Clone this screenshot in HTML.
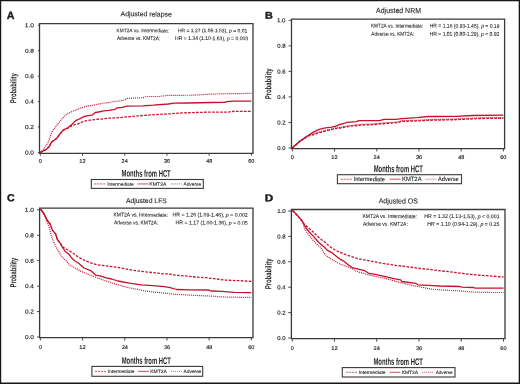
<!DOCTYPE html>
<html><head><meta charset="utf-8"><style>
html,body{margin:0;padding:0;background:#fff;}
body{width:520px;height:384px;overflow:hidden;}
svg{display:block;font-family:"Liberation Sans",sans-serif;font-kerning:none;will-change:transform;}
</style></head><body>
<svg width="520" height="384" viewBox="0 0 520 384">
<rect x="0" y="0" width="520" height="384" fill="#fff"/>
<path d="M0.55,0.55 H519.35 V383.25 H0.55 Z" fill="none" stroke="#161616" stroke-width="1.3"/>
<path d="M39.50,23.60 H253.00 V153.30 H39.50 Z" fill="none" stroke="#3a3a3a" stroke-width="1.3"/>
<line x1="37.90" y1="152.50" x2="39.50" y2="152.50" stroke="#3a3a3a" stroke-width="0.9"/>
<text transform="translate(24.95,154.50) rotate(0.3) scale(0.06479,0.05731)" font-size="100" fill="#1e1e1e" stroke="#1e1e1e" stroke-width="2.62" stroke-linejoin="round">0.0</text>
<line x1="37.90" y1="127.04" x2="39.50" y2="127.04" stroke="#3a3a3a" stroke-width="0.9"/>
<text transform="translate(24.94,129.04) rotate(0.3) scale(0.06535,0.05731)" font-size="100" fill="#1e1e1e" stroke="#1e1e1e" stroke-width="2.62" stroke-linejoin="round">0.2</text>
<line x1="37.90" y1="101.58" x2="39.50" y2="101.58" stroke="#3a3a3a" stroke-width="0.9"/>
<text transform="translate(24.95,103.58) rotate(0.3) scale(0.06431,0.05731)" font-size="100" fill="#1e1e1e" stroke="#1e1e1e" stroke-width="2.62" stroke-linejoin="round">0.4</text>
<line x1="37.90" y1="76.12" x2="39.50" y2="76.12" stroke="#3a3a3a" stroke-width="0.9"/>
<text transform="translate(24.95,78.12) rotate(0.3) scale(0.06503,0.05731)" font-size="100" fill="#1e1e1e" stroke="#1e1e1e" stroke-width="2.62" stroke-linejoin="round">0.6</text>
<line x1="37.90" y1="50.66" x2="39.50" y2="50.66" stroke="#3a3a3a" stroke-width="0.9"/>
<text transform="translate(24.95,52.66) rotate(0.3) scale(0.06500,0.05731)" font-size="100" fill="#1e1e1e" stroke="#1e1e1e" stroke-width="2.62" stroke-linejoin="round">0.8</text>
<line x1="37.90" y1="25.20" x2="39.50" y2="25.20" stroke="#3a3a3a" stroke-width="0.9"/>
<text transform="translate(24.69,27.20) rotate(0.3) scale(0.06667,0.05731)" font-size="100" fill="#1e1e1e" stroke="#1e1e1e" stroke-width="2.62" stroke-linejoin="round">1.0</text>
<line x1="40.30" y1="153.30" x2="40.30" y2="155.80" stroke="#3a3a3a" stroke-width="0.9"/>
<text transform="translate(38.79,162.85) rotate(0.3) scale(0.05439,0.05229)" font-size="100" fill="#1e1e1e" stroke="#1e1e1e" stroke-width="2.87" stroke-linejoin="round">0</text>
<line x1="82.52" y1="153.30" x2="82.52" y2="155.80" stroke="#3a3a3a" stroke-width="0.9"/>
<text transform="translate(79.23,162.85) rotate(0.3) scale(0.05782,0.05229)" font-size="100" fill="#1e1e1e" stroke="#1e1e1e" stroke-width="2.87" stroke-linejoin="round">12</text>
<line x1="124.74" y1="153.30" x2="124.74" y2="155.80" stroke="#3a3a3a" stroke-width="0.9"/>
<text transform="translate(121.61,162.85) rotate(0.3) scale(0.05519,0.05229)" font-size="100" fill="#1e1e1e" stroke="#1e1e1e" stroke-width="2.87" stroke-linejoin="round">24</text>
<line x1="166.96" y1="153.30" x2="166.96" y2="155.80" stroke="#3a3a3a" stroke-width="0.9"/>
<text transform="translate(163.90,162.85) rotate(0.3) scale(0.05533,0.05229)" font-size="100" fill="#1e1e1e" stroke="#1e1e1e" stroke-width="2.87" stroke-linejoin="round">36</text>
<line x1="209.18" y1="153.30" x2="209.18" y2="155.80" stroke="#3a3a3a" stroke-width="0.9"/>
<text transform="translate(206.20,162.85) rotate(0.3) scale(0.05450,0.05229)" font-size="100" fill="#1e1e1e" stroke="#1e1e1e" stroke-width="2.87" stroke-linejoin="round">48</text>
<line x1="251.40" y1="153.30" x2="251.40" y2="155.80" stroke="#3a3a3a" stroke-width="0.9"/>
<text transform="translate(248.27,162.85) rotate(0.3) scale(0.05575,0.05229)" font-size="100" fill="#1e1e1e" stroke="#1e1e1e" stroke-width="2.87" stroke-linejoin="round">60</text>
<text transform="translate(6.68,18.93) rotate(0.3) scale(0.10732,0.10574)" font-size="100" font-weight="bold" fill="#1e1e1e" stroke="#1e1e1e" stroke-width="3.78" stroke-linejoin="round">A</text>
<text transform="translate(120.59,16.25) rotate(0.3) scale(0.06876,0.06904)" font-size="100" fill="#1e1e1e" stroke="#1e1e1e" stroke-width="1.45" stroke-linejoin="round">Adjusted relapse</text>
<text transform="translate(116.51,32.15) rotate(0.3) scale(0.04810,0.05160)" font-size="100" fill="#1e1e1e" stroke="#1e1e1e" stroke-width="1.55" stroke-linejoin="round">KMT2A vs. Intermediate:</text>
<text transform="translate(116.89,39.95) rotate(0.3) scale(0.04767,0.05305)" font-size="100" fill="#1e1e1e" stroke="#1e1e1e" stroke-width="1.51" stroke-linejoin="round">Adverse vs. KMT2A:</text>
<text transform="translate(177.99,32.15) rotate(0.3) scale(0.04990,0.05160)" font-size="100" fill="#1e1e1e" stroke="#1e1e1e" stroke-width="1.55" stroke-linejoin="round">HR = 1.27 (1.06-1.53), <tspan font-style="italic">p</tspan> = 0.01</text>
<text transform="translate(175.08,39.95) rotate(0.3) scale(0.05067,0.05305)" font-size="100" fill="#1e1e1e" stroke="#1e1e1e" stroke-width="1.51" stroke-linejoin="round">HR = 1.34 (1.10-1.63), <tspan font-style="italic">p</tspan> = 0.003</text>
<text transform="translate(16.28,103.14) rotate(-89.7) scale(0.05770,0.08757)" font-size="100" font-weight="bold" fill="#1e1e1e">Probability</text>
<text transform="translate(121.56,176.57) rotate(0.3) scale(0.05860,0.09629)" font-size="100" font-weight="bold" fill="#1e1e1e">Months from HCT</text>
<rect x="91.30" y="179.50" width="112.00" height="8.90" fill="none" stroke="#3a3a3a" stroke-width="1.1"/>
<polyline points="94.20,183.95 106.20,183.95" fill="none" stroke="#c8102e" stroke-width="0.75" stroke-linejoin="round" stroke-dasharray="2 1"/>
<polyline points="137.50,183.95 148.50,183.95" fill="none" stroke="#c8102e" stroke-width="0.75" stroke-linejoin="round"/>
<polyline points="170.80,183.95 182.00,183.95" fill="none" stroke="#c8102e" stroke-width="0.75" stroke-linejoin="round" stroke-dasharray="1 1"/>
<text transform="translate(107.26,185.62) rotate(0.3) scale(0.04768,0.04615)" font-size="100" fill="#1e1e1e" stroke="#1e1e1e" stroke-width="2.17" stroke-linejoin="round">Intermediate</text>
<text transform="translate(149.33,185.62) rotate(0.3) scale(0.05169,0.04615)" font-size="100" fill="#1e1e1e" stroke="#1e1e1e" stroke-width="2.17" stroke-linejoin="round">KMT2A</text>
<text transform="translate(183.54,185.62) rotate(0.3) scale(0.04776,0.04615)" font-size="100" fill="#1e1e1e" stroke="#1e1e1e" stroke-width="2.17" stroke-linejoin="round">Adverse</text>
<polyline points="40.30,152.50 46.30,149.40 49.50,146.25 51.50,142.10 56.75,138.40 58.80,135.30 63.00,130.50 68.20,128.00 72.40,125.40 78.00,123.90 83.75,121.25 90.00,120.20 98.40,119.25 108.80,118.20 119.25,117.70 129.70,116.60 138.00,115.90 147.50,115.20 159.00,114.40 170.60,113.80 182.10,112.90 196.00,112.50 209.00,112.10 228.60,112.10 230.90,111.50 251.40,111.30" fill="none" stroke="#c8102e" stroke-width="1.3" stroke-linejoin="round" stroke-dasharray="2.6 1.4"/>
<polyline points="40.30,152.50 44.25,148.30 48.40,142.10 50.50,135.80 52.60,130.60 56.75,125.40 60.90,120.20 66.00,114.50 71.25,111.90 76.50,109.80 81.70,107.70 86.90,106.10 93.20,105.20 98.40,104.10 103.60,103.10 108.80,102.60 114.00,101.50 119.25,101.00 124.50,100.00 127.60,98.40 136.00,97.90 142.90,97.70 146.40,96.50 159.00,96.50 167.10,95.40 194.00,95.20 209.00,94.20 228.60,93.70 251.40,93.40" fill="none" stroke="#c8102e" stroke-width="1.2" stroke-linejoin="round" stroke-dasharray="1 1"/>
<polyline points="40.30,152.50 46.30,149.40 49.50,146.25 51.50,142.10 53.60,140.50 56.75,138.40 58.80,135.30 63.00,130.10 68.20,127.50 72.40,123.90 75.50,120.70 78.00,119.70 83.75,116.60 88.00,115.60 92.20,115.10 95.30,112.50 98.40,112.00 103.60,110.90 108.80,110.40 115.00,109.40 117.20,107.80 122.40,107.30 126.50,106.20 142.90,105.80 153.30,105.20 168.30,104.00 174.10,103.20 187.90,103.00 211.30,102.50 225.10,102.30 226.30,101.70 233.20,101.10 251.40,101.10" fill="none" stroke="#c8102e" stroke-width="1.3" stroke-linejoin="round"/>
<path d="M291.50,19.10 H504.60 V148.60 H291.50 Z" fill="none" stroke="#3a3a3a" stroke-width="1.3"/>
<line x1="288.60" y1="148.00" x2="291.50" y2="148.00" stroke="#3a3a3a" stroke-width="0.9"/>
<text transform="translate(277.27,150.00) rotate(0.3) scale(0.05945,0.05731)" font-size="100" fill="#1e1e1e" stroke="#1e1e1e" stroke-width="2.62" stroke-linejoin="round">0.0</text>
<line x1="288.60" y1="122.46" x2="291.50" y2="122.46" stroke="#3a3a3a" stroke-width="0.9"/>
<text transform="translate(277.27,124.46) rotate(0.3) scale(0.05996,0.05731)" font-size="100" fill="#1e1e1e" stroke="#1e1e1e" stroke-width="2.62" stroke-linejoin="round">0.2</text>
<line x1="288.60" y1="96.92" x2="291.50" y2="96.92" stroke="#3a3a3a" stroke-width="0.9"/>
<text transform="translate(277.27,98.92) rotate(0.3) scale(0.05901,0.05731)" font-size="100" fill="#1e1e1e" stroke="#1e1e1e" stroke-width="2.62" stroke-linejoin="round">0.4</text>
<line x1="288.60" y1="71.38" x2="291.50" y2="71.38" stroke="#3a3a3a" stroke-width="0.9"/>
<text transform="translate(277.27,73.38) rotate(0.3) scale(0.05967,0.05731)" font-size="100" fill="#1e1e1e" stroke="#1e1e1e" stroke-width="2.62" stroke-linejoin="round">0.6</text>
<line x1="288.60" y1="45.84" x2="291.50" y2="45.84" stroke="#3a3a3a" stroke-width="0.9"/>
<text transform="translate(277.27,47.84) rotate(0.3) scale(0.05965,0.05731)" font-size="100" fill="#1e1e1e" stroke="#1e1e1e" stroke-width="2.62" stroke-linejoin="round">0.8</text>
<line x1="288.60" y1="20.30" x2="291.50" y2="20.30" stroke="#3a3a3a" stroke-width="0.9"/>
<text transform="translate(277.03,22.30) rotate(0.3) scale(0.06118,0.05731)" font-size="100" fill="#1e1e1e" stroke="#1e1e1e" stroke-width="2.62" stroke-linejoin="round">1.0</text>
<line x1="292.30" y1="148.60" x2="292.30" y2="151.50" stroke="#3a3a3a" stroke-width="0.9"/>
<text transform="translate(290.79,158.95) rotate(0.3) scale(0.05439,0.05229)" font-size="100" fill="#1e1e1e" stroke="#1e1e1e" stroke-width="2.87" stroke-linejoin="round">0</text>
<line x1="334.52" y1="148.60" x2="334.52" y2="151.50" stroke="#3a3a3a" stroke-width="0.9"/>
<text transform="translate(331.23,158.95) rotate(0.3) scale(0.05782,0.05229)" font-size="100" fill="#1e1e1e" stroke="#1e1e1e" stroke-width="2.87" stroke-linejoin="round">12</text>
<line x1="376.74" y1="148.60" x2="376.74" y2="151.50" stroke="#3a3a3a" stroke-width="0.9"/>
<text transform="translate(373.61,158.95) rotate(0.3) scale(0.05519,0.05229)" font-size="100" fill="#1e1e1e" stroke="#1e1e1e" stroke-width="2.87" stroke-linejoin="round">24</text>
<line x1="418.96" y1="148.60" x2="418.96" y2="151.50" stroke="#3a3a3a" stroke-width="0.9"/>
<text transform="translate(415.90,158.95) rotate(0.3) scale(0.05533,0.05229)" font-size="100" fill="#1e1e1e" stroke="#1e1e1e" stroke-width="2.87" stroke-linejoin="round">36</text>
<line x1="461.18" y1="148.60" x2="461.18" y2="151.50" stroke="#3a3a3a" stroke-width="0.9"/>
<text transform="translate(458.20,158.95) rotate(0.3) scale(0.05450,0.05229)" font-size="100" fill="#1e1e1e" stroke="#1e1e1e" stroke-width="2.87" stroke-linejoin="round">48</text>
<line x1="503.40" y1="148.60" x2="503.40" y2="151.50" stroke="#3a3a3a" stroke-width="0.9"/>
<text transform="translate(500.27,158.95) rotate(0.3) scale(0.05575,0.05229)" font-size="100" fill="#1e1e1e" stroke="#1e1e1e" stroke-width="2.87" stroke-linejoin="round">60</text>
<text transform="translate(264.93,18.82) rotate(0.3) scale(0.10822,0.09847)" font-size="100" font-weight="bold" fill="#1e1e1e" stroke="#1e1e1e" stroke-width="4.06" stroke-linejoin="round">B</text>
<text transform="translate(376.09,12.95) rotate(0.3) scale(0.06978,0.07631)" font-size="100" fill="#1e1e1e" stroke="#1e1e1e" stroke-width="1.31" stroke-linejoin="round">Adjusted NRM</text>
<text transform="translate(370.91,27.55) rotate(0.3) scale(0.04746,0.05451)" font-size="100" fill="#1e1e1e" stroke="#1e1e1e" stroke-width="1.47" stroke-linejoin="round">KMT2A vs. Intermediate:</text>
<text transform="translate(371.29,35.65) rotate(0.3) scale(0.04723,0.05596)" font-size="100" fill="#1e1e1e" stroke="#1e1e1e" stroke-width="1.43" stroke-linejoin="round">Adverse vs. KMT2A:</text>
<text transform="translate(429.69,27.55) rotate(0.3) scale(0.05026,0.05451)" font-size="100" fill="#1e1e1e" stroke="#1e1e1e" stroke-width="1.47" stroke-linejoin="round">HR = 1.16 (0.93-1.45), <tspan font-style="italic">p</tspan> = 0.19</text>
<text transform="translate(429.69,35.65) rotate(0.3) scale(0.05027,0.05596)" font-size="100" fill="#1e1e1e" stroke="#1e1e1e" stroke-width="1.43" stroke-linejoin="round">HR = 1.01 (0.80-1.29), <tspan font-style="italic">p</tspan> = 0.92</text>
<text transform="translate(271.28,99.35) rotate(-89.7) scale(0.05966,0.08757)" font-size="100" font-weight="bold" fill="#1e1e1e">Probability</text>
<text transform="translate(373.76,172.07) rotate(0.3) scale(0.05848,0.09920)" font-size="100" font-weight="bold" fill="#1e1e1e">Months from HCT</text>
<rect x="337.40" y="174.70" width="124.10" height="9.00" fill="none" stroke="#3a3a3a" stroke-width="1.1"/>
<polyline points="340.70,179.20 352.00,179.20" fill="none" stroke="#c8102e" stroke-width="0.75" stroke-linejoin="round" stroke-dasharray="2 1"/>
<polyline points="389.50,179.20 400.60,179.20" fill="none" stroke="#c8102e" stroke-width="0.75" stroke-linejoin="round"/>
<polyline points="425.40,179.20 437.00,179.20" fill="none" stroke="#c8102e" stroke-width="0.75" stroke-linejoin="round" stroke-dasharray="1 1"/>
<text transform="translate(353.63,181.03) rotate(0.3) scale(0.05625,0.06068)" font-size="100" fill="#1e1e1e" stroke="#1e1e1e" stroke-width="1.65" stroke-linejoin="round">Intermediate</text>
<text transform="translate(401.97,181.03) rotate(0.3) scale(0.05877,0.06068)" font-size="100" fill="#1e1e1e" stroke="#1e1e1e" stroke-width="1.65" stroke-linejoin="round">KMT2A</text>
<text transform="translate(437.94,181.03) rotate(0.3) scale(0.05687,0.06068)" font-size="100" fill="#1e1e1e" stroke="#1e1e1e" stroke-width="1.65" stroke-linejoin="round">Adverse</text>
<polyline points="292.10,148.30 296.25,144.70 300.40,141.00 304.60,138.40 307.50,136.30 312.90,134.80 319.20,132.70 325.40,131.10 331.70,129.60 335.80,128.50 338.00,128.40 344.90,127.20 349.50,126.30 361.10,125.10 372.60,124.70 381.80,123.80 389.90,123.20 398.00,122.60 401.80,121.40 419.10,120.90 428.30,120.30 456.00,119.70 461.50,119.40 480.40,118.50 503.40,118.30" fill="none" stroke="#c8102e" stroke-width="1.3" stroke-linejoin="round" stroke-dasharray="2.6 1.4"/>
<polyline points="292.10,147.60 296.25,144.00 300.40,140.30 304.60,137.70 307.50,135.60 312.90,134.10 319.20,132.00 325.40,130.40 331.70,128.90 335.80,127.80 338.00,127.70 344.90,126.50 349.50,125.60 361.10,124.40 372.60,124.00 381.80,123.10 389.90,122.50 398.00,121.90 401.80,120.70 419.10,120.20 428.30,119.60 456.00,119.00 461.50,118.70 480.40,117.80 503.40,117.60" fill="none" stroke="#c8102e" stroke-width="1.2" stroke-linejoin="round" stroke-dasharray="1 1"/>
<polyline points="292.10,148.00 296.25,144.40 300.40,140.70 304.60,138.10 307.50,136.00 312.90,132.40 319.20,129.30 325.40,127.90 331.70,127.20 335.80,126.10 340.00,124.40 343.80,123.50 347.20,122.30 356.50,121.70 358.80,120.60 379.50,120.60 384.10,119.40 396.00,119.40 401.80,118.60 416.80,117.70 428.30,116.50 456.00,116.30 472.30,115.50 503.40,115.10" fill="none" stroke="#c8102e" stroke-width="1.3" stroke-linejoin="round"/>
<path d="M39.60,208.20 H253.00 V337.70 H39.60 Z" fill="none" stroke="#3a3a3a" stroke-width="1.3"/>
<line x1="37.00" y1="337.00" x2="39.60" y2="337.00" stroke="#3a3a3a" stroke-width="0.9"/>
<text transform="translate(24.95,339.00) rotate(0.3) scale(0.06479,0.05731)" font-size="100" fill="#1e1e1e" stroke="#1e1e1e" stroke-width="2.62" stroke-linejoin="round">0.0</text>
<line x1="37.00" y1="311.56" x2="39.60" y2="311.56" stroke="#3a3a3a" stroke-width="0.9"/>
<text transform="translate(24.94,313.56) rotate(0.3) scale(0.06535,0.05731)" font-size="100" fill="#1e1e1e" stroke="#1e1e1e" stroke-width="2.62" stroke-linejoin="round">0.2</text>
<line x1="37.00" y1="286.12" x2="39.60" y2="286.12" stroke="#3a3a3a" stroke-width="0.9"/>
<text transform="translate(24.95,288.12) rotate(0.3) scale(0.06431,0.05731)" font-size="100" fill="#1e1e1e" stroke="#1e1e1e" stroke-width="2.62" stroke-linejoin="round">0.4</text>
<line x1="37.00" y1="260.68" x2="39.60" y2="260.68" stroke="#3a3a3a" stroke-width="0.9"/>
<text transform="translate(24.95,262.68) rotate(0.3) scale(0.06503,0.05731)" font-size="100" fill="#1e1e1e" stroke="#1e1e1e" stroke-width="2.62" stroke-linejoin="round">0.6</text>
<line x1="37.00" y1="235.24" x2="39.60" y2="235.24" stroke="#3a3a3a" stroke-width="0.9"/>
<text transform="translate(24.95,237.24) rotate(0.3) scale(0.06500,0.05731)" font-size="100" fill="#1e1e1e" stroke="#1e1e1e" stroke-width="2.62" stroke-linejoin="round">0.8</text>
<line x1="37.00" y1="209.80" x2="39.60" y2="209.80" stroke="#3a3a3a" stroke-width="0.9"/>
<text transform="translate(24.69,211.80) rotate(0.3) scale(0.06667,0.05731)" font-size="100" fill="#1e1e1e" stroke="#1e1e1e" stroke-width="2.62" stroke-linejoin="round">1.0</text>
<line x1="40.40" y1="337.70" x2="40.40" y2="340.50" stroke="#3a3a3a" stroke-width="0.9"/>
<text transform="translate(38.89,348.95) rotate(0.3) scale(0.05439,0.05372)" font-size="100" fill="#1e1e1e" stroke="#1e1e1e" stroke-width="2.79" stroke-linejoin="round">0</text>
<line x1="82.58" y1="337.70" x2="82.58" y2="340.50" stroke="#3a3a3a" stroke-width="0.9"/>
<text transform="translate(79.29,348.95) rotate(0.3) scale(0.05782,0.05372)" font-size="100" fill="#1e1e1e" stroke="#1e1e1e" stroke-width="2.79" stroke-linejoin="round">12</text>
<line x1="124.76" y1="337.70" x2="124.76" y2="340.50" stroke="#3a3a3a" stroke-width="0.9"/>
<text transform="translate(121.63,348.95) rotate(0.3) scale(0.05519,0.05372)" font-size="100" fill="#1e1e1e" stroke="#1e1e1e" stroke-width="2.79" stroke-linejoin="round">24</text>
<line x1="166.94" y1="337.70" x2="166.94" y2="340.50" stroke="#3a3a3a" stroke-width="0.9"/>
<text transform="translate(163.88,348.95) rotate(0.3) scale(0.05533,0.05372)" font-size="100" fill="#1e1e1e" stroke="#1e1e1e" stroke-width="2.79" stroke-linejoin="round">36</text>
<line x1="209.12" y1="337.70" x2="209.12" y2="340.50" stroke="#3a3a3a" stroke-width="0.9"/>
<text transform="translate(206.14,348.95) rotate(0.3) scale(0.05450,0.05372)" font-size="100" fill="#1e1e1e" stroke="#1e1e1e" stroke-width="2.79" stroke-linejoin="round">48</text>
<line x1="251.30" y1="337.70" x2="251.30" y2="340.50" stroke="#3a3a3a" stroke-width="0.9"/>
<text transform="translate(248.17,348.95) rotate(0.3) scale(0.05575,0.05372)" font-size="100" fill="#1e1e1e" stroke="#1e1e1e" stroke-width="2.79" stroke-linejoin="round">60</text>
<text transform="translate(6.92,201.22) rotate(0.3) scale(0.10554,0.10283)" font-size="100" font-weight="bold" fill="#1e1e1e" stroke="#1e1e1e" stroke-width="3.89" stroke-linejoin="round">C</text>
<text transform="translate(125.89,202.95) rotate(0.3) scale(0.06834,0.06904)" font-size="100" fill="#1e1e1e" stroke="#1e1e1e" stroke-width="1.45" stroke-linejoin="round">Adjusted LFS</text>
<text transform="translate(113.49,216.45) rotate(0.3) scale(0.04977,0.05305)" font-size="100" fill="#1e1e1e" stroke="#1e1e1e" stroke-width="1.51" stroke-linejoin="round">KMT2A vs. Intermediate:</text>
<text transform="translate(113.89,224.35) rotate(0.3) scale(0.04867,0.05305)" font-size="100" fill="#1e1e1e" stroke="#1e1e1e" stroke-width="1.51" stroke-linejoin="round">Adverse vs. KMT2A:</text>
<text transform="translate(172.47,216.45) rotate(0.3) scale(0.05216,0.05305)" font-size="100" fill="#1e1e1e" stroke="#1e1e1e" stroke-width="1.51" stroke-linejoin="round">HR = 1.26 (1.09-1.46), <tspan font-style="italic">p</tspan> = 0.002</text>
<text transform="translate(175.47,224.35) rotate(0.3) scale(0.05206,0.05305)" font-size="100" fill="#1e1e1e" stroke="#1e1e1e" stroke-width="1.51" stroke-linejoin="round">HR = 1.17 (1.00-1.36), <tspan font-style="italic">p</tspan> = 0.05</text>
<text transform="translate(16.28,287.43) rotate(-89.7) scale(0.05731,0.08757)" font-size="100" font-weight="bold" fill="#1e1e1e">Probability</text>
<text transform="translate(121.76,363.78) rotate(0.3) scale(0.05848,0.09629)" font-size="100" font-weight="bold" fill="#1e1e1e">Months from HCT</text>
<rect x="91.90" y="366.40" width="110.80" height="9.90" fill="none" stroke="#3a3a3a" stroke-width="1.1"/>
<polyline points="95.00,371.35 106.60,371.35" fill="none" stroke="#c8102e" stroke-width="0.75" stroke-linejoin="round" stroke-dasharray="2 1"/>
<polyline points="137.80,371.35 149.00,371.35" fill="none" stroke="#c8102e" stroke-width="0.75" stroke-linejoin="round"/>
<polyline points="170.90,371.35 182.30,371.35" fill="none" stroke="#c8102e" stroke-width="0.75" stroke-linejoin="round" stroke-dasharray="1 1"/>
<text transform="translate(107.91,372.92) rotate(0.3) scale(0.04795,0.04615)" font-size="100" fill="#1e1e1e" stroke="#1e1e1e" stroke-width="2.17" stroke-linejoin="round">Intermediate</text>
<text transform="translate(150.24,372.92) rotate(0.3) scale(0.04985,0.04615)" font-size="100" fill="#1e1e1e" stroke="#1e1e1e" stroke-width="2.17" stroke-linejoin="round">KMT2A</text>
<text transform="translate(183.54,372.92) rotate(0.3) scale(0.04859,0.04615)" font-size="100" fill="#1e1e1e" stroke="#1e1e1e" stroke-width="2.17" stroke-linejoin="round">Adverse</text>
<polyline points="40.60,209.10 44.10,214.00 47.20,220.25 50.30,224.40 52.40,230.10 55.50,233.80 57.40,239.50 60.50,243.60 62.50,246.70 66.75,249.50 71.40,252.00 77.50,256.50 84.00,260.20 90.60,262.80 97.00,264.70 106.00,265.80 117.70,267.30 129.40,269.70 141.20,271.40 152.90,272.60 164.00,273.90 169.20,273.90 172.30,274.90 184.80,275.90 195.25,277.00 205.70,277.70 214.00,278.60 224.80,280.10 239.70,280.70 251.30,281.40" fill="none" stroke="#c8102e" stroke-width="1.3" stroke-linejoin="round" stroke-dasharray="2.6 1.4"/>
<polyline points="40.60,209.10 44.25,214.30 47.20,222.30 49.30,227.50 51.10,235.00 52.70,239.70 55.00,245.20 58.20,250.60 62.10,256.90 66.00,260.80 69.90,265.00 74.90,267.80 81.40,271.50 90.60,275.20 97.00,277.80 106.00,281.00 110.70,282.50 117.70,284.90 129.40,287.80 141.20,290.20 147.00,291.30 164.00,293.10 174.40,294.20 195.25,295.40 214.00,296.25 219.90,296.90 251.30,297.50" fill="none" stroke="#c8102e" stroke-width="1.2" stroke-linejoin="round" stroke-dasharray="1 1"/>
<polyline points="40.60,209.10 44.10,214.00 47.20,220.25 50.30,224.40 52.40,230.10 55.50,233.80 57.40,239.50 60.50,243.60 62.50,247.50 65.20,251.40 69.10,254.50 71.40,257.70 74.60,260.80 78.00,262.80 84.00,268.00 90.60,270.60 95.80,275.20 101.00,276.20 106.00,277.90 111.90,279.00 117.70,281.00 129.40,283.10 141.20,284.90 152.90,285.70 164.00,286.70 169.20,287.40 176.50,289.50 190.00,289.80 208.80,290.00 210.90,291.00 221.90,291.30 233.80,292.30 251.30,292.60" fill="none" stroke="#c8102e" stroke-width="1.3" stroke-linejoin="round"/>
<path d="M291.40,209.50 H505.00 V338.70 H291.40 Z" fill="none" stroke="#3a3a3a" stroke-width="1.3"/>
<line x1="288.20" y1="338.00" x2="291.40" y2="338.00" stroke="#3a3a3a" stroke-width="0.9"/>
<text transform="translate(277.37,340.00) rotate(0.3) scale(0.05945,0.05731)" font-size="100" fill="#1e1e1e" stroke="#1e1e1e" stroke-width="2.62" stroke-linejoin="round">0.0</text>
<line x1="288.20" y1="312.60" x2="291.40" y2="312.60" stroke="#3a3a3a" stroke-width="0.9"/>
<text transform="translate(277.37,314.60) rotate(0.3) scale(0.05996,0.05731)" font-size="100" fill="#1e1e1e" stroke="#1e1e1e" stroke-width="2.62" stroke-linejoin="round">0.2</text>
<line x1="288.20" y1="287.20" x2="291.40" y2="287.20" stroke="#3a3a3a" stroke-width="0.9"/>
<text transform="translate(277.37,289.20) rotate(0.3) scale(0.05901,0.05731)" font-size="100" fill="#1e1e1e" stroke="#1e1e1e" stroke-width="2.62" stroke-linejoin="round">0.4</text>
<line x1="288.20" y1="261.80" x2="291.40" y2="261.80" stroke="#3a3a3a" stroke-width="0.9"/>
<text transform="translate(277.37,263.80) rotate(0.3) scale(0.05967,0.05731)" font-size="100" fill="#1e1e1e" stroke="#1e1e1e" stroke-width="2.62" stroke-linejoin="round">0.6</text>
<line x1="288.20" y1="236.40" x2="291.40" y2="236.40" stroke="#3a3a3a" stroke-width="0.9"/>
<text transform="translate(277.37,238.40) rotate(0.3) scale(0.05965,0.05731)" font-size="100" fill="#1e1e1e" stroke="#1e1e1e" stroke-width="2.62" stroke-linejoin="round">0.8</text>
<line x1="288.20" y1="211.00" x2="291.40" y2="211.00" stroke="#3a3a3a" stroke-width="0.9"/>
<text transform="translate(277.13,213.00) rotate(0.3) scale(0.06118,0.05731)" font-size="100" fill="#1e1e1e" stroke="#1e1e1e" stroke-width="2.62" stroke-linejoin="round">1.0</text>
<line x1="292.20" y1="338.70" x2="292.20" y2="341.70" stroke="#3a3a3a" stroke-width="0.9"/>
<text transform="translate(290.69,350.05) rotate(0.3) scale(0.05439,0.05372)" font-size="100" fill="#1e1e1e" stroke="#1e1e1e" stroke-width="2.79" stroke-linejoin="round">0</text>
<line x1="334.46" y1="338.70" x2="334.46" y2="341.70" stroke="#3a3a3a" stroke-width="0.9"/>
<text transform="translate(331.17,350.05) rotate(0.3) scale(0.05782,0.05372)" font-size="100" fill="#1e1e1e" stroke="#1e1e1e" stroke-width="2.79" stroke-linejoin="round">12</text>
<line x1="376.72" y1="338.70" x2="376.72" y2="341.70" stroke="#3a3a3a" stroke-width="0.9"/>
<text transform="translate(373.59,350.05) rotate(0.3) scale(0.05519,0.05372)" font-size="100" fill="#1e1e1e" stroke="#1e1e1e" stroke-width="2.79" stroke-linejoin="round">24</text>
<line x1="418.98" y1="338.70" x2="418.98" y2="341.70" stroke="#3a3a3a" stroke-width="0.9"/>
<text transform="translate(415.92,350.05) rotate(0.3) scale(0.05533,0.05372)" font-size="100" fill="#1e1e1e" stroke="#1e1e1e" stroke-width="2.79" stroke-linejoin="round">36</text>
<line x1="461.24" y1="338.70" x2="461.24" y2="341.70" stroke="#3a3a3a" stroke-width="0.9"/>
<text transform="translate(458.26,350.05) rotate(0.3) scale(0.05450,0.05372)" font-size="100" fill="#1e1e1e" stroke="#1e1e1e" stroke-width="2.79" stroke-linejoin="round">48</text>
<line x1="503.50" y1="338.70" x2="503.50" y2="341.70" stroke="#3a3a3a" stroke-width="0.9"/>
<text transform="translate(500.37,350.05) rotate(0.3) scale(0.05575,0.05372)" font-size="100" fill="#1e1e1e" stroke="#1e1e1e" stroke-width="2.79" stroke-linejoin="round">60</text>
<text transform="translate(264.86,201.22) rotate(0.3) scale(0.11740,0.09847)" font-size="100" font-weight="bold" fill="#1e1e1e" stroke="#1e1e1e" stroke-width="4.06" stroke-linejoin="round">D</text>
<text transform="translate(378.69,203.35) rotate(0.3) scale(0.07006,0.07340)" font-size="100" fill="#1e1e1e" stroke="#1e1e1e" stroke-width="1.36" stroke-linejoin="round">Adjusted OS</text>
<text transform="translate(362.49,217.95) rotate(0.3) scale(0.04958,0.05451)" font-size="100" fill="#1e1e1e" stroke="#1e1e1e" stroke-width="1.47" stroke-linejoin="round">KMT2A vs. Intermediate:</text>
<text transform="translate(362.89,225.65) rotate(0.3) scale(0.04933,0.05451)" font-size="100" fill="#1e1e1e" stroke="#1e1e1e" stroke-width="1.47" stroke-linejoin="round">Adverse vs. KMT2A:</text>
<text transform="translate(424.27,217.95) rotate(0.3) scale(0.05208,0.05451)" font-size="100" fill="#1e1e1e" stroke="#1e1e1e" stroke-width="1.47" stroke-linejoin="round">HR = 1.32 (1.13-1.53), <tspan font-style="italic">p</tspan> &lt; 0.001</text>
<text transform="translate(427.27,225.65) rotate(0.3) scale(0.05198,0.05451)" font-size="100" fill="#1e1e1e" stroke="#1e1e1e" stroke-width="1.47" stroke-linejoin="round">HR = 1.10 (0.94-1.29), <tspan font-style="italic">p</tspan> = 0.25</text>
<text transform="translate(271.28,289.35) rotate(-89.7) scale(0.05966,0.08757)" font-size="100" font-weight="bold" fill="#1e1e1e">Probability</text>
<text transform="translate(373.46,364.78) rotate(0.3) scale(0.05884,0.09629)" font-size="100" font-weight="bold" fill="#1e1e1e">Months from HCT</text>
<rect x="342.30" y="367.60" width="112.70" height="9.40" fill="none" stroke="#3a3a3a" stroke-width="1.1"/>
<polyline points="346.20,372.30 357.50,372.30" fill="none" stroke="#c8102e" stroke-width="0.75" stroke-linejoin="round" stroke-dasharray="2 1"/>
<polyline points="389.50,372.30 400.40,372.30" fill="none" stroke="#c8102e" stroke-width="0.75" stroke-linejoin="round"/>
<polyline points="422.20,372.30 433.60,372.30" fill="none" stroke="#c8102e" stroke-width="0.75" stroke-linejoin="round" stroke-dasharray="1 1"/>
<text transform="translate(358.71,373.92) rotate(0.3) scale(0.04814,0.04615)" font-size="100" fill="#1e1e1e" stroke="#1e1e1e" stroke-width="2.17" stroke-linejoin="round">Intermediate</text>
<text transform="translate(401.65,373.92) rotate(0.3) scale(0.04923,0.04615)" font-size="100" fill="#1e1e1e" stroke="#1e1e1e" stroke-width="2.17" stroke-linejoin="round">KMT2A</text>
<text transform="translate(435.64,373.92) rotate(0.3) scale(0.04666,0.04615)" font-size="100" fill="#1e1e1e" stroke="#1e1e1e" stroke-width="2.17" stroke-linejoin="round">Adverse</text>
<polyline points="292.60,210.50 297.80,215.90 302.50,221.60 304.50,224.50 307.80,227.50 311.70,230.60 315.60,234.50 320.00,238.60 323.90,241.30 327.80,244.80 331.70,247.90 335.60,250.20 339.50,252.20 343.40,253.75 348.90,255.70 356.25,258.20 361.50,259.30 366.70,260.30 375.00,261.90 384.50,263.65 396.10,265.40 407.60,266.80 419.10,268.30 431.00,269.70 440.60,270.85 450.20,271.80 459.80,273.10 469.50,274.30 481.00,275.30 489.20,275.90 503.50,277.00" fill="none" stroke="#c8102e" stroke-width="1.3" stroke-linejoin="round" stroke-dasharray="2.6 1.4"/>
<polyline points="292.60,210.50 297.80,215.90 302.50,221.60 304.70,229.00 307.80,233.70 310.90,237.60 314.10,241.50 318.00,245.40 320.80,247.50 323.90,253.00 327.80,256.90 331.70,259.20 335.60,261.60 340.30,264.30 345.80,266.00 351.00,268.10 356.25,271.25 361.50,272.80 366.70,274.40 375.00,276.50 384.50,278.10 396.10,281.50 407.60,284.40 419.10,286.70 431.00,289.10 443.50,290.10 459.80,290.85 469.50,291.80 481.00,292.30 492.70,292.50 503.50,292.50" fill="none" stroke="#c8102e" stroke-width="1.2" stroke-linejoin="round" stroke-dasharray="1 1"/>
<polyline points="292.60,210.50 297.80,215.90 302.50,221.60 306.25,228.25 309.40,232.20 313.30,236.10 317.20,240.75 320.00,243.60 323.90,246.70 327.80,250.60 331.70,252.60 335.60,255.70 339.50,258.80 343.40,260.80 347.30,263.90 352.10,267.60 358.30,269.20 364.60,270.70 368.75,273.30 375.00,274.40 382.20,275.80 393.80,278.60 400.70,279.80 401.80,281.50 415.70,283.30 418.00,284.80 433.00,285.60 440.60,286.00 459.80,286.50 461.80,287.20 473.30,287.50 475.20,288.20 503.50,288.20" fill="none" stroke="#c8102e" stroke-width="1.3" stroke-linejoin="round"/>
</svg>
</body></html>
